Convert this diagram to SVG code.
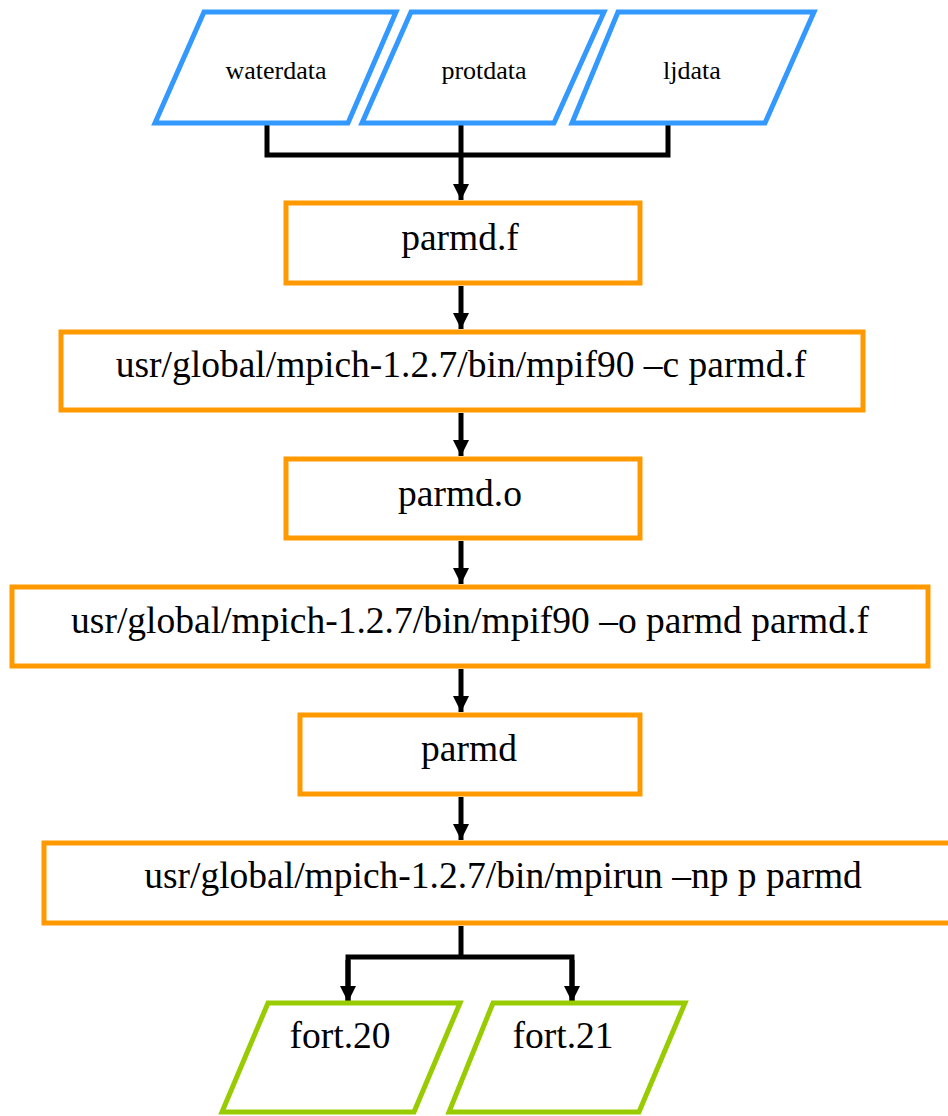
<svg xmlns="http://www.w3.org/2000/svg" width="948" height="1116" viewBox="0 0 948 1116">
<style>
.in{fill:#fff;stroke:#3399ff;stroke-width:5}
.box{fill:#fff;stroke:#ff9900;stroke-width:5}
.out{fill:#fff;stroke:#99cc00;stroke-width:5}
.t{font-family:"Liberation Serif","Times New Roman",serif;fill:#000;text-anchor:middle}
.s{font-size:26px}
.b{font-size:37.5px}
.c{fill:none;stroke:#000;stroke-width:5}
</style>
<defs>
<marker id="ah" markerUnits="userSpaceOnUse" markerWidth="16" markerHeight="16" refX="16" refY="8" orient="auto">
<path d="M0,0 L16,8 L0,16 Z" fill="#000"/>
</marker>
</defs>
<rect width="948" height="1116" fill="#fff"/>
<g id="connectors">
<path class="c" d="M267,123 V155 H668 V123"/>
<path class="c" d="M461,123 V200" marker-end="url(#ah)"/>
<path class="c" d="M461,286 V329" marker-end="url(#ah)"/>
<path class="c" d="M461,413 V456" marker-end="url(#ah)"/>
<path class="c" d="M461,541 V584" marker-end="url(#ah)"/>
<path class="c" d="M461,669 V712" marker-end="url(#ah)"/>
<path class="c" d="M461,797 V840" marker-end="url(#ah)"/>
<path class="c" d="M461,926 V957"/>
<path class="c" d="M348,1002 V957 H572 V1002" />
<path class="c" d="M348,960 V1002" marker-end="url(#ah)"/>
<path class="c" d="M572,960 V1002" marker-end="url(#ah)"/>
</g>
<g id="waterdata">
<polygon class="in" points="204,12 396,12 348,123 155,123"/>
<text class="t s" x="276" y="79">waterdata</text>
</g>
<g id="protdata">
<polygon class="in" points="411,12 604,12 554,123 362,123"/>
<text class="t s" x="484" y="79">protdata</text>
</g>
<g id="ljdata">
<polygon class="in" points="618,12 814,12 765,123 572,123"/>
<text class="t s" x="692" y="79">ljdata</text>
</g>
<g id="parmd_f">
<rect class="box" x="286" y="203" width="354" height="80"/>
<text class="t b" x="460" y="250">parmd.f</text>
</g>
<g id="compile">
<rect class="box" x="61" y="332" width="802" height="78"/>
<text class="t b" x="461" y="377">usr/global/mpich-1.2.7/bin/mpif90 –c parmd.f</text>
</g>
<g id="parmd_o">
<rect class="box" x="286" y="459" width="354" height="79"/>
<text class="t b" x="460" y="506">parmd.o</text>
</g>
<g id="link">
<rect class="box" x="12" y="587" width="916" height="79"/>
<text class="t b" x="470" y="633">usr/global/mpich-1.2.7/bin/mpif90 –o parmd parmd.f</text>
</g>
<g id="parmd">
<rect class="box" x="300" y="715" width="340" height="79"/>
<text class="t b" x="469" y="761">parmd</text>
</g>
<g id="run">
<rect class="box" x="44" y="843" width="918" height="80"/>
<text class="t b" x="503" y="888">usr/global/mpich-1.2.7/bin/mpirun –np p parmd</text>
</g>
<g id="fort20">
<polygon class="out" points="268,1003 460,1003 414,1112 222,1112"/>
<text class="t b" x="340" y="1048">fort.20</text>
</g>
<g id="fort21">
<polygon class="out" points="493,1003 685,1003 639,1112 449,1112"/>
<text class="t b" x="563" y="1048">fort.21</text>
</g>
</svg>
